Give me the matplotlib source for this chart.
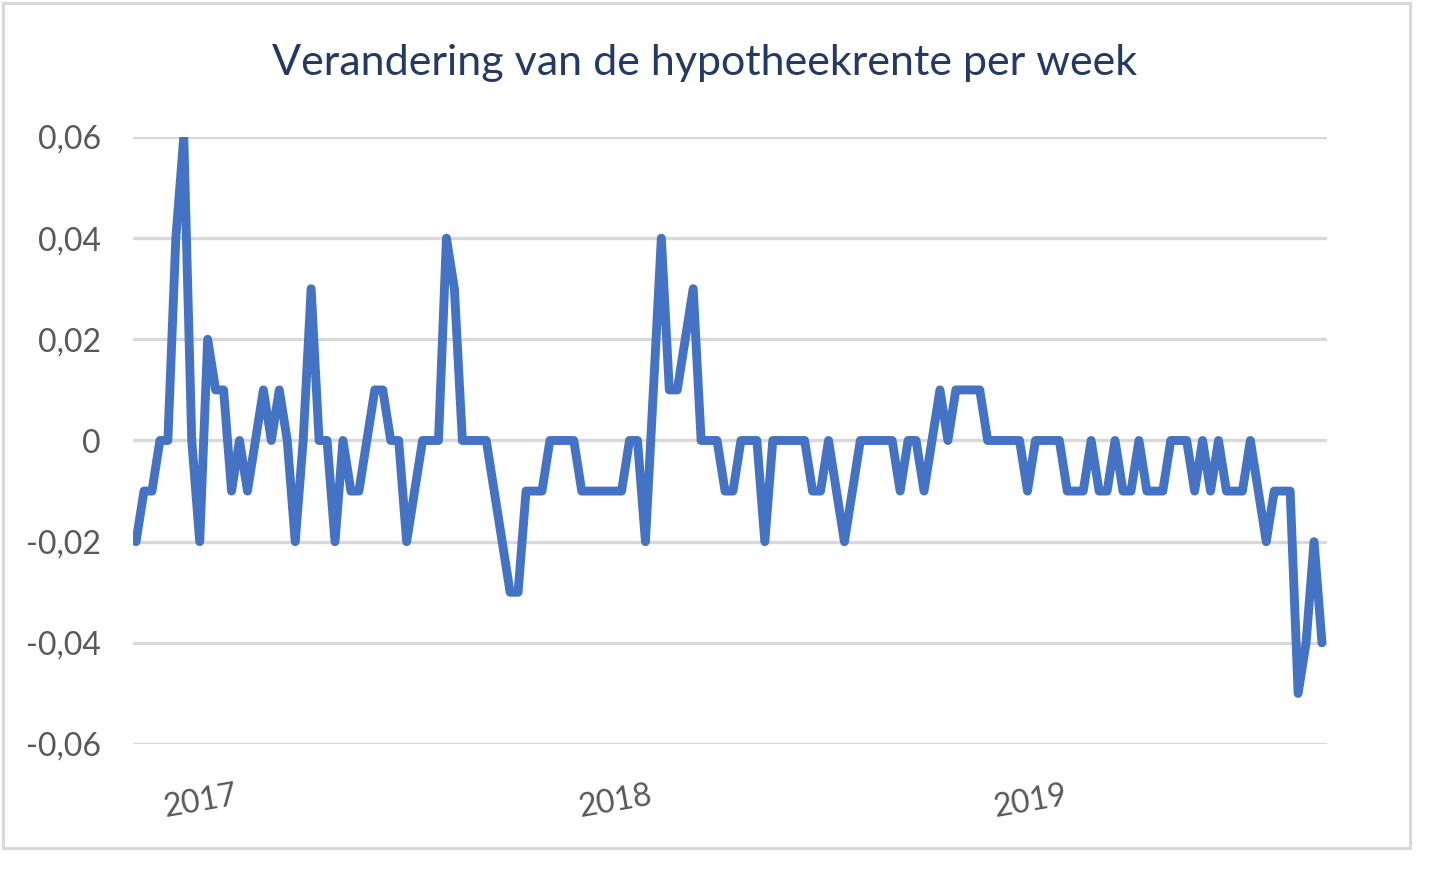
import numpy as np
import pandas as pd
import matplotlib
matplotlib.use("Agg")
import matplotlib.pyplot as plt
from matplotlib.patches import Rectangle
from matplotlib.ticker import FuncFormatter

plt.rcParams['font.family'] = ['Lato', 'DejaVu Sans']

# weekly change in mortgage rate (percentage points)
start_date = "2016-11-08"
changes = [
    -0.02, -0.01, -0.01, 0.00, 0.00, 0.04, 0.06, 0.00, -0.02, 0.02,
    0.01, 0.01, -0.01, 0.00, -0.01, 0.00, 0.01, 0.00, 0.01, 0.00,
    -0.02, 0.00, 0.03, 0.00, 0.00, -0.02, 0.00, -0.01, -0.01, 0.00,
    0.01, 0.01, 0.00, 0.00, -0.02, -0.01, 0.00, 0.00, 0.00, 0.04,
    0.03, 0.00, 0.00, 0.00, 0.00, -0.01, -0.02, -0.03, -0.03, -0.01,
    -0.01, -0.01, 0.00, 0.00, 0.00, 0.00, -0.01, -0.01, -0.01, -0.01,
    -0.01, -0.01, 0.00, 0.00, -0.02, 0.01, 0.04, 0.01, 0.01, 0.02,
    0.03, 0.00, 0.00, 0.00, -0.01, -0.01, 0.00, 0.00, 0.00, -0.02,
    0.00, 0.00, 0.00, 0.00, 0.00, -0.01, -0.01, 0.00, -0.01, -0.02,
    -0.01, 0.00, 0.00, 0.00, 0.00, 0.00, -0.01, 0.00, 0.00, -0.01,
    0.00, 0.01, 0.00, 0.01, 0.01, 0.01, 0.01, 0.00, 0.00, 0.00,
    0.00, 0.00, -0.01, 0.00, 0.00, 0.00, 0.00, -0.01, -0.01, -0.01,
    0.00, -0.01, -0.01, 0.00, -0.01, -0.01, 0.00, -0.01, -0.01, -0.01,
    0.00, 0.00, 0.00, -0.01, 0.00, -0.01, 0.00, -0.01, -0.01, -0.01,
    0.00, -0.01, -0.02, -0.01, -0.01, -0.01, -0.05, -0.04, -0.02, -0.04,
]
weeks = pd.date_range(start_date, periods=len(changes), freq="7D")
year_ticks = pd.to_datetime(["2017-01-01", "2018-01-01", "2019-01-01"])
year_labels = ["2017", "2018", "2019"]
y_ticks = [-0.06, -0.04, -0.02, 0.0, 0.02, 0.04, 0.06]

fig = plt.figure(figsize=(14.4, 8.8), dpi=100)
fig.patch.set_facecolor("white")

# light chart border like the Excel chart area
fig.patches.append(Rectangle((3 / 1440, 1 - 848 / 880), 1407 / 1440, 845 / 880,
                             transform=fig.transFigure, fill=False,
                             edgecolor="#d9d9d9", linewidth=2.2))

ax = fig.add_axes([133 / 1440, 1 - 744 / 880, 1194 / 1440, 607 / 880])

step = weeks[1] - weeks[0]
ax.set_xlim(weeks[0] - step * 0.38, weeks[-1] + step * 0.63)
ax.set_ylim(-0.06, 0.06)

ax.plot(weeks, changes, color="#4472c4", linewidth=6.4,
        solid_joinstyle="round", solid_capstyle="round", zorder=3)

ax.set_yticks(y_ticks)
ax.yaxis.set_major_formatter(FuncFormatter(
    lambda v, p: "0" if abs(v) < 1e-9 else ("%.2f" % v).replace(".", ",")))
ax.grid(axis="y", color="#d9d9d9", linewidth=2.4)
ax.set_axisbelow(True)

ax.set_xticks(year_ticks)
ax.set_xticklabels(year_labels, rotation=10, rotation_mode="anchor", ha="center")

ax.tick_params(axis="y", length=0, pad=23, labelsize=23, labelcolor="#595959")
ax.tick_params(axis="x", length=0, pad=31, labelsize=23, labelcolor="#595959")
for s in ax.spines.values():
    s.set_visible(False)

fig.text(705 / 1440, 1 - 63 / 880, "Verandering van de hypotheekrente per week",
         ha="center", va="center", fontsize=31, color="#243a66")

fig.savefig("out.png", dpi=100, facecolor="white")
